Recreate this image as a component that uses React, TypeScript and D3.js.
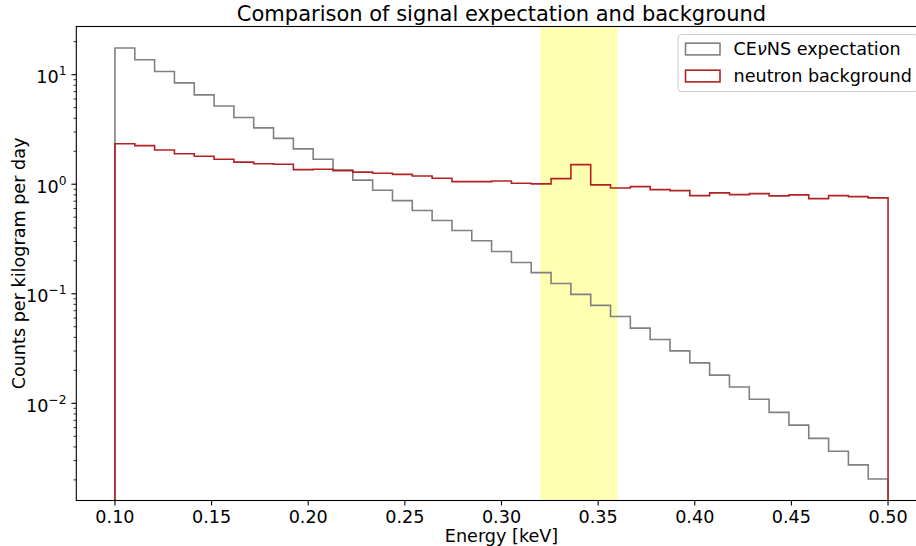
import React from 'react';
import * as d3 from 'd3';

// ---- data ----
const BIN_LO = 0.1;
const BIN_HI = 0.5;
const signalCounts = [
  17.5, 13.7, 10.7, 8.41, 6.54, 5.17, 4.07, 3.27, 2.62, 2.10,
  1.69, 1.35, 1.09, 0.881, 0.709, 0.575, 0.466, 0.378, 0.305, 0.243,
  0.193, 0.156, 0.124, 0.0988, 0.0784, 0.0621, 0.0486, 0.0382, 0.0301, 0.0234,
  0.0181, 0.0141, 0.0109, 0.00827, 0.00633, 0.00479, 0.00365, 0.00274, 0.00204,
];
const backgroundCounts = [
  2.34, 2.25, 2.05, 1.90, 1.80, 1.69, 1.59, 1.54, 1.52, 1.36,
  1.37, 1.33, 1.29, 1.26, 1.23, 1.19, 1.135, 1.056, 1.056, 1.07,
  1.02, 1.007, 1.125, 1.51, 0.986, 0.925, 0.951, 0.893, 0.875, 0.787,
  0.834, 0.804, 0.821, 0.782, 0.799, 0.739, 0.787, 0.77, 0.75,
];
const xTickValues = [0.1, 0.15, 0.2, 0.25, 0.3, 0.35, 0.4, 0.45, 0.5];
const yTickExponents = [-2, -1, 0, 1];
const bandRange = [0.32, 0.36];
const seriesNames = ['CE\u03bdNS expectation', 'neutron background'];
const seriesColors = ['#808080', '#b22222'];

const W = 916;
const H = 546;
const L = 76.3, R = 926.7, T = 26.5, B = 500.5;
const FONT = 'DejaVu Sans, sans-serif';
const FS = 17.6;

export default function App() {
  const nBins = signalCounts.length;
  const edges = d3.range(nBins + 1).map((i) => BIN_LO + (i * (BIN_HI - BIN_LO)) / nBins);

  const xPad = (BIN_HI - BIN_LO) * 0.05;
  const x = d3.scaleLinear().domain([BIN_LO - xPad, BIN_HI + xPad]).range([L, R]);

  const all = [...signalCounts, ...backgroundCounts];
  const lmin = Math.log10(d3.min(all) as number);
  const lmax = Math.log10(d3.max(all) as number);
  const lpad = (lmax - lmin) * 0.05;
  const y = d3.scaleLog().domain([10 ** (lmin - lpad), 10 ** (lmax + lpad)]).range([B, T]);

  const stepPath = (vals: number[]) => {
    const pts: [number, number][] = [[x(edges[0]), B + 5]];
    vals.forEach((v, i) => {
      pts.push([x(edges[i]), y(v)]);
      pts.push([x(edges[i + 1]), y(v)]);
    });
    pts.push([x(edges[nBins]), B + 5]);
    return d3.line()(pts) as string;
  };

  const [d0, d1] = y.domain();
  const minor: number[] = [];
  for (let e = Math.floor(Math.log10(d0)); e <= Math.ceil(Math.log10(d1)); e++) {
    for (let k = 2; k <= 9; k++) {
      const v = k * 10 ** e;
      if (v >= d0 && v <= d1) minor.push(v);
    }
  }

  const legX = 678, legY = 34.5, legW = 240, legH = 57;

  return (
    <svg width={W} height={H} style={{ position: 'absolute', left: 0, top: 0 }} fontFamily={FONT}>
      <defs>
        <clipPath id="plotclip">
          <rect x={L} y={T} width={R - L} height={B - T} />
        </clipPath>
      </defs>
      <rect x={0} y={0} width={W} height={H} fill="#fff" />
      <rect x={x(bandRange[0])} y={T} width={x(bandRange[1]) - x(bandRange[0])} height={B - T} fill="yellow" fillOpacity={0.3} />
      <g clipPath="url(#plotclip)">
        <path d={stepPath(signalCounts)} fill="none" stroke={seriesColors[0]} strokeWidth={1.6} strokeLinejoin="miter" />
        <path d={stepPath(backgroundCounts)} fill="none" stroke={seriesColors[1]} strokeWidth={1.6} strokeLinejoin="miter" />
      </g>
      {/* spines */}
      <rect x={L} y={T} width={R - L} height={B - T} fill="none" stroke="#000" strokeWidth={1.1} />
      {/* x ticks */}
      {xTickValues.map((v) => (
        <g key={v}>
          <line x1={x(v)} x2={x(v)} y1={B} y2={B + 4.9} stroke="#000" strokeWidth={1.1} />
          <text x={x(v)} y={B + 22.5} fontSize={FS} textAnchor="middle" fill="#000">
            {v.toFixed(2)}
          </text>
        </g>
      ))}
      {/* y minor ticks */}
      {minor.map((v) => (
        <line key={'m' + v} x1={L - 2.8} x2={L} y1={y(v)} y2={y(v)} stroke="#000" strokeWidth={0.8} />
      ))}
      {/* y major ticks */}
      {yTickExponents.map((e) => {
        const yy = y(10 ** e);
        const sup = e < 0 ? '\u2212' + Math.abs(e) : String(e);
        return (
          <g key={e}>
            <line x1={L - 4.9} x2={L} y1={yy} y2={yy} stroke="#000" strokeWidth={1.1} />
            <text x={L - 9.8} y={yy + 8.5} fontSize={FS} textAnchor="end" fill="#000">
              10
              <tspan dy={-8} fontSize={FS * 0.7}>{sup}</tspan>
            </text>
          </g>
        );
      })}
      {/* axis labels */}
      <text x={(L + R) / 2} y={542} fontSize={FS} textAnchor="middle" fill="#000">Energy [keV]</text>
      <text transform={`translate(24.5,${(T + B) / 2}) rotate(-90)`} fontSize={FS} textAnchor="middle" fill="#000">
        Counts per kilogram per day
      </text>
      <text x={(L + R) / 2} y={T - 6} fontSize={21} textAnchor="middle" fill="#000">
        Comparison of signal expectation and background
      </text>
      {/* legend */}
      <rect x={legX} y={legY} width={legW} height={legH} rx={3.5} fill="#fff" fillOpacity={0.8} stroke="#cccccc" strokeWidth={1} />
      {seriesNames.map((name, i) => {
        const cy = legY + 14.5 + i * 27;
        return (
          <g key={name}>
            <rect x={legX + 7.5} y={cy - 5.8} width={34.5} height={11.7} fill="none" stroke={seriesColors[i]} strokeWidth={1.6} />
            <text x={legX + 55.5} y={cy + 6.2} fontSize={FS} fill="#000">
              {i === 0 ? (
                <>
                  CE<tspan fontStyle="italic">{'\u03bd'}</tspan>NS expectation
                </>
              ) : (
                name
              )}
            </text>
          </g>
        );
      })}
    </svg>
  );
}
